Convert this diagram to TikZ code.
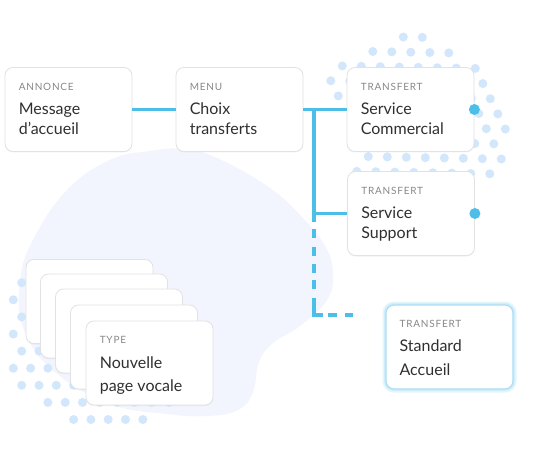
\documentclass[tikz,border=0pt]{standalone}
\usepackage{fontspec}
\setmainfont{Lato}
\newfontfamily\hdrfont[LetterSpace=8]{Lato}
\usetikzlibrary{calc,shadows}
\definecolor{lineblue}{RGB}{77,190,232}
\definecolor{dotblue}{RGB}{210,230,252}
\definecolor{blobcol}{RGB}{242,245,254}
\definecolor{hdrgray}{RGB}{136,136,136}
\definecolor{bodygray}{RGB}{48,48,48}
\definecolor{cardline}{RGB}{226,226,226}
\definecolor{glowout}{RGB}{230,246,253}
\definecolor{glowmid}{RGB}{208,237,250}
\definecolor{glowin}{RGB}{172,221,244}
\tikzset{
  card/.style={rectangle, rounded corners=8pt, fill=white, draw=cardline, line width=0.8pt,
    minimum width=127pt, minimum height=84pt, inner sep=0pt,
    drop shadow={shadow xshift=0pt, shadow yshift=-1pt, opacity=0.10}},
  glowcard/.style={rectangle, rounded corners=8pt, fill=white, draw=glowin, line width=1.2pt,
    minimum width=127pt, minimum height=84pt, inner sep=0pt,
    preaction={draw=glowout, line width=7pt},
    preaction={draw=glowmid, line width=4pt}},
  hdr/.style={anchor=base west, inner sep=0pt, text=hdrgray, font=\hdrfont\fontsize{10}{12}\selectfont},
  bodytxt/.style={anchor=base west, inner sep=0pt, text=bodygray, font=\fontsize{16}{19}\selectfont},
  conn/.style={draw=lineblue, line width=3.5pt},
  enddot/.style={circle, fill=lineblue, minimum size=11pt, inner sep=0pt},
}
\newcommand\cardtxt[5]{%
  \node[hdr] (#1-h) at ($(#1.north west)+(14,23)$) {#2};
  \node[bodytxt] (#1-a) at ($(#1.north west)+(14,47.5)$) {#3};
  \node[bodytxt] (#1-b) at ($(#1.north west)+(14,47.5+#5)$) {#4};
}
\begin{document}
\begin{tikzpicture}[x=1pt,y=-1pt]
\useasboundingbox (0,0) rectangle (550,460);
\fill[white] (0,0) rectangle (550,460);
% blob
\fill[blobcol] plot[smooth cycle, tension=0.7] coordinates {
  (20,282) (33,240) (67,190) (110,160) (150,151) (183,149) (217,158) (267,186)
  (300,215) (325,246) (333,273) (327,300) (300,326) (273,343) (259,362) (253,392)
  (238,410) (207,416) (167,414) (110,404) (55,372) (24,330)};
% dots near the transfer boxes
\foreach \r/\ka/\kb in {-2/1/2,-1/-1/3,0/-3/4,1/-4/4,2/-4/4,3/-3/4,4/-3/4,5/-3/3,6/-4/3,7/-5/2}{
  \foreach \k in {\ka,...,\kb}{
    \fill[dotblue] ({399.3+7.5*\r+19*\k},{67+15.16*\r+0.35*\k}) circle[radius=4.5pt];
  }
}
% dots near the page stack
\foreach \n/\ka/\kb in {0/0/0,1/0/0,2/0/0,3/0/0,4/0/1,5/0/2,6/0/3,7/2/9,8/3/7}{
  \foreach \k in {\ka,...,\kb}{
    \fill[dotblue] ({21.7-8.4*mod(\n,2)+17.3*\k},{282.7+17.1*\n}) circle[radius=4.5pt];
  }
}
% boxes
\node[card] (ann) at (68.5,109.5) {};
\node[card] (menu) at (239.5,109.5) {};
\node[card] (sc) at (410.5,109.5) {};
\node[card] (ss) at (411,213.5) {};
\node[glowcard] (sa) at (449.5,347) {};
\node[card] (p1) at (89.5,301.5) {};
\node[card] (p2) at (104,316) {};
\node[card] (p3) at (119,331) {};
\node[card] (p4) at (134,347) {};
\node[card] (p5) at (149.5,363) {};
% connectors
\coordinate (junc) at (314,109.5);
\coordinate (corner) at (314,315);
\coordinate (dend) at (353,315);
\draw[conn] (ann.east) -- (menu.west);
\draw[conn] (menu.east) -- (sc.west);
\draw[conn] (junc) -- (junc |- ss.west) -- (ss.west);
\draw[conn, dash pattern=on 9pt off 7pt on 9pt off 8pt on 9pt off 8pt on 9pt off 7pt on 9pt off 9pt on 26pt off 5pt on 9pt off 8pt on 9pt off 20pt]
  (junc |- ss.west) -- (corner) -- (dend);
\node[enddot] (scdot) at (sc.east) {};
\node[enddot] (ssdot) at (ss.east) {};
% texts
\cardtxt{ann}{ANNONCE}{Message}{d’accueil}{20}
\cardtxt{menu}{MENU}{Choix}{transferts}{20}
\cardtxt{sc}{TRANSFERT}{Service}{Commercial}{20}
\cardtxt{ss}{TRANSFERT}{Service}{Support}{20}
\cardtxt{sa}{TRANSFERT}{Standard}{Accueil}{23.5}
\cardtxt{p5}{TYPE}{Nouvelle}{page vocale}{23.5}
\end{tikzpicture}
\end{document}
